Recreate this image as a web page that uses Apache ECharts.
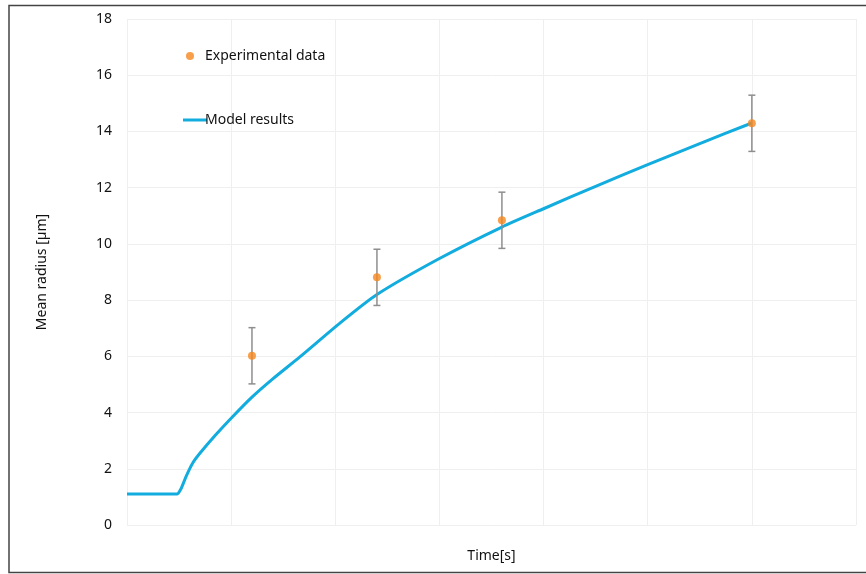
<!DOCTYPE html>
<html>
<head>
<meta charset="utf-8">
<script src="https://cdn.jsdelivr.net/npm/echarts@6/dist/echarts.min.js"></script>
<style>
  html, body { margin: 0; padding: 0; background: #fff; overflow: hidden; }
  #chart { width: 866px; height: 574px; }
</style>
</head>
<body>
<div id="chart"></div>
<script>
// Measured mean radius at four sampling times, with symmetric error
const expTimes = [1.2, 2.4, 3.6, 6.0];
const expRadius = [6.02, 8.81, 10.84, 14.29];
const expError = [1.0, 1.0, 1.0, 1.0];

// Simulated mean radius over time
const modelTimes = [0, 0.25, 0.48, 0.52, 0.57, 0.63, 0.7, 0.85, 1.0, 1.2, 1.4, 1.66, 2.05, 2.4, 3.0, 3.6, 4.0, 4.5, 5.0, 5.5, 6.0];
const modelRadius = [1.1, 1.1, 1.1, 1.3, 1.75, 2.2, 2.55, 3.2, 3.8, 4.55, 5.2, 5.98, 7.2, 8.2, 9.48, 10.6, 11.25, 12.05, 12.82, 13.57, 14.3];

// Axis ticks
const yTicks = [0, 2, 4, 6, 8, 10, 12, 14, 16, 18];
const xRange = [0, 7];

const FONT = 'Noto Sans';
const BLUE = '#12ACDF';
const ORANGE = '#F6871F';

const chart = echarts.init(document.getElementById('chart'));

const expPoints = expTimes.map((t, i) => [t, expRadius[i]]);
const errPoints = expTimes.map((t, i) => [t, expRadius[i] - expError[i], expRadius[i] + expError[i]]);
const modelPoints = modelTimes.map((t, i) => [t, modelRadius[i]]);

chart.setOption({
  animation: false,
  backgroundColor: '#fff',
  textStyle: { fontFamily: FONT },
  graphic: [{
    // outer frame: left, top and bottom edges
    type: 'polyline',
    shape: { points: [[870, 5.5], [9, 5.5], [9, 572.5], [870, 572.5]] },
    style: { fill: 'none', stroke: '#444', lineWidth: 1.5 },
    silent: true
  }],
  grid: { left: 127, right: 10, top: 19, bottom: 49 },
  legend: [{
    data: [{ name: 'Experimental data', icon: 'circle' }],
    left: 181, top: 44,
    itemWidth: 8, itemHeight: 8,
    textStyle: { fontFamily: FONT, fontSize: 14, color: '#111', padding: [0, 0, 0, 6] }
  }, {
    data: [{ name: 'Model results', icon: 'rect' }],
    left: 178, top: 108,
    itemWidth: 24, itemHeight: 3,
    itemStyle: { color: BLUE },
    textStyle: { fontFamily: FONT, fontSize: 14, color: '#111', padding: [0, 0, 0, -7] }
  }],
  xAxis: {
    type: 'value',
    min: xRange[0], max: xRange[1], interval: 1,
    name: 'Time[s]',
    nameLocation: 'middle',
    nameGap: 24,
    nameTextStyle: { fontFamily: FONT, fontSize: 14, color: '#111' },
    axisLine: { show: false },
    axisTick: { show: false },
    axisLabel: { show: false },
    splitLine: { show: true, lineStyle: { color: '#EFEFEF', width: 1 } }
  },
  yAxis: {
    type: 'value',
    min: yTicks[0], max: yTicks[yTicks.length - 1], interval: 2,
    name: 'Mean radius [µm]',
    nameLocation: 'middle',
    nameGap: 78,
    nameTextStyle: { fontFamily: FONT, fontSize: 14, color: '#111' },
    axisLine: { show: false },
    axisTick: { show: false },
    axisLabel: {
      margin: 15, fontFamily: FONT, fontSize: 14, color: '#111',
      formatter: v => yTicks.includes(v) ? String(v) : ''
    },
    splitLine: { show: true, lineStyle: { color: '#EFEFEF', width: 1 } }
  },
  series: [{
    name: 'Model results',
    type: 'line',
    data: modelPoints,
    smooth: 0.2,
    showSymbol: false,
    symbol: 'none',
    lineStyle: { color: BLUE, width: 3 },
    itemStyle: { color: BLUE },
    z: 2
  }, {
    name: 'Error bars',
    type: 'custom',
    data: errPoints,
    z: 3,
    renderItem: (params, api) => {
      const x = api.value(0);
      const lo = api.coord([x, api.value(1)]);
      const hi = api.coord([x, api.value(2)]);
      const cap = 3.5;
      const style = { stroke: '#8E8E8E', lineWidth: 1.5, fill: 'none' };
      return {
        type: 'group',
        children: [
          { type: 'line', shape: { x1: lo[0], y1: lo[1], x2: hi[0], y2: hi[1] }, style },
          { type: 'line', shape: { x1: lo[0] - cap, y1: lo[1], x2: lo[0] + cap, y2: lo[1] }, style },
          { type: 'line', shape: { x1: hi[0] - cap, y1: hi[1], x2: hi[0] + cap, y2: hi[1] }, style }
        ]
      };
    },
    encode: { x: 0, y: [1, 2] }
  }, {
    name: 'Experimental data',
    type: 'scatter',
    data: expPoints,
    symbol: 'circle',
    symbolSize: 8,
    itemStyle: { color: ORANGE },
    z: 4
  }]
});
</script>
</body>
</html>
